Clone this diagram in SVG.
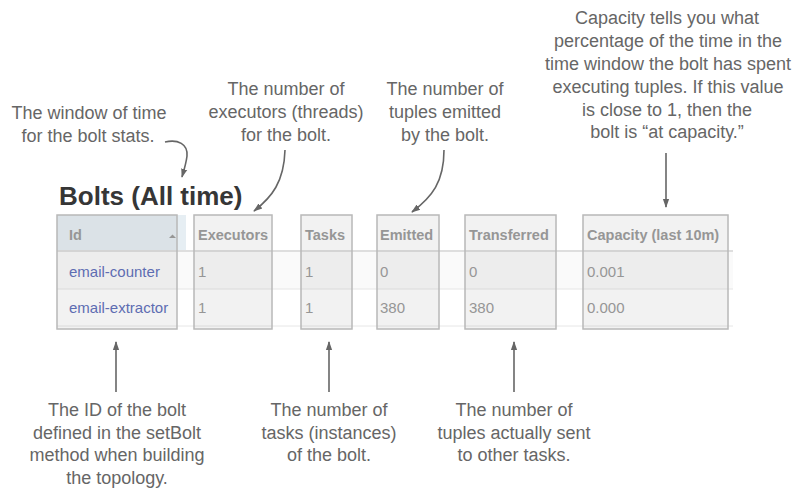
<svg xmlns="http://www.w3.org/2000/svg" width="795" height="489" viewBox="0 0 795 489">
<style>
.note{font-family:"Liberation Sans",Arial,sans-serif;font-size:18px;fill:#666;text-anchor:middle}
.hd{font-family:"Liberation Sans",Arial,sans-serif;font-size:14.5px;font-weight:bold;fill:#999}
.cell{font-family:"Liberation Sans",Arial,sans-serif;font-size:15px;fill:#999}
.link{font-family:"Liberation Sans",Arial,sans-serif;font-size:15px;fill:#5a6bb8}
.hl{fill:#808080;fill-opacity:0.1;stroke:#b8b8b8;stroke-width:1.5}
.conn{fill:none;stroke:#666;stroke-width:1.6}
</style>
<defs>
<marker id="ah2" viewBox="0 0 10 10" refX="9" refY="5" markerWidth="9" markerHeight="9" orient="auto" markerUnits="userSpaceOnUse">
<path d="M0,1.5 L10,5 L0,8.5 Z" fill="#666"/>
</marker>
</defs>
<rect width="795" height="489" fill="#fff"/>

<g id="table">
<text x="59" y="205" font-family="Liberation Sans,Arial,sans-serif" font-size="26" font-weight="bold" fill="#363636">Bolts (All time)</text>
<rect x="57" y="215" width="129" height="36" fill="#e6eef3"/>
<rect x="57" y="251" width="676" height="38" fill="#fafafa"/>
<line x1="57" y1="251" x2="733" y2="251" stroke="#dedede" stroke-width="2"/>
<line x1="57" y1="289" x2="733" y2="289" stroke="#e6e6e6" stroke-width="1"/>
<line x1="57" y1="326" x2="733" y2="326" stroke="#e6e6e6" stroke-width="1"/>
<text class="hd" x="69" y="240">Id</text>
<path d="M169,238 L172.5,234.5 L176,238 Z" fill="#999"/>
<text class="hd" x="198" y="240">Executors</text>
<text class="hd" x="305" y="240">Tasks</text>
<text class="hd" x="380" y="240">Emitted</text>
<text class="hd" x="469" y="240">Transferred</text>
<text class="hd" x="587" y="240">Capacity (last 10m)</text>
<text class="link" x="69" y="277">email-counter</text>
<text class="cell" x="198" y="277">1</text>
<text class="cell" x="305" y="277">1</text>
<text class="cell" x="380" y="277">0</text>
<text class="cell" x="469" y="277">0</text>
<text class="cell" x="587" y="277">0.001</text>
<text class="link" x="69" y="313">email-extractor</text>
<text class="cell" x="198" y="313">1</text>
<text class="cell" x="305" y="313">1</text>
<text class="cell" x="380" y="313">380</text>
<text class="cell" x="469" y="313">380</text>
<text class="cell" x="587" y="313">0.000</text>
</g>

<g id="box-id"><rect class="hl" x="57" y="215" width="120" height="114"/></g>
<g id="box-executors"><rect class="hl" x="194" y="215" width="78" height="114"/></g>
<g id="box-tasks"><rect class="hl" x="301" y="215" width="51" height="114"/></g>
<g id="box-emitted"><rect class="hl" x="377" y="215" width="62" height="114"/></g>
<g id="box-transferred"><rect class="hl" x="465" y="215" width="91" height="114"/></g>
<g id="box-capacity"><rect class="hl" x="583" y="215" width="145" height="114"/></g>

<g id="note-window">
<text class="note" x="89" y="119">The window of time</text>
<text class="note" x="88" y="142">for the bolt stats.</text>
</g>
<g id="note-executors">
<text class="note" x="286" y="95">The number of</text>
<text class="note" x="286" y="118">executors (threads)</text>
<text class="note" x="286" y="141">for the bolt.</text>
</g>
<g id="note-emitted">
<text class="note" x="445" y="95">The number of</text>
<text class="note" x="445" y="118">tuples emitted</text>
<text class="note" x="445" y="141">by the bolt.</text>
</g>
<g id="note-capacity">
<text class="note" x="667" y="24">Capacity tells you what</text>
<text class="note" x="668" y="47">percentage of the time in the</text>
<text class="note" x="668" y="70">time window the bolt has spent</text>
<text class="note" x="668" y="93">executing tuples. If this value</text>
<text class="note" x="667" y="116">is close to 1, then the</text>
<text class="note" x="667" y="138">bolt is “at capacity.”</text>
</g>
<g id="note-id">
<text class="note" x="117" y="416">The ID of the bolt</text>
<text class="note" x="117" y="439">defined in the setBolt</text>
<text class="note" x="117" y="461">method when building</text>
<text class="note" x="117" y="484">the topology.</text>
</g>
<g id="note-tasks">
<text class="note" x="329" y="416">The number of</text>
<text class="note" x="329" y="439">tasks (instances)</text>
<text class="note" x="329" y="461">of the bolt.</text>
</g>
<g id="note-transferred">
<text class="note" x="514" y="416">The number of</text>
<text class="note" x="514" y="439">tuples actually sent</text>
<text class="note" x="514" y="461">to other tasks.</text>
</g>

<g id="connectors">
<path class="conn" d="M165,142 C178,139 188,144 187,156 C186,164 184,170 182,177" marker-end="url(#ah2)"/>
<path class="conn" d="M285,150 C284,182 272,197 254,211" marker-end="url(#ah2)"/>
<path class="conn" d="M444,150 C444,182 432,197 412,212" marker-end="url(#ah2)"/>
<path class="conn" d="M666,153 L666,207" marker-end="url(#ah2)"/>
<path class="conn" d="M116,392 L116,342" marker-end="url(#ah2)"/>
<path class="conn" d="M329,392 L329,342" marker-end="url(#ah2)"/>
<path class="conn" d="M514,392 L514,342" marker-end="url(#ah2)"/>
</g>
</svg>
